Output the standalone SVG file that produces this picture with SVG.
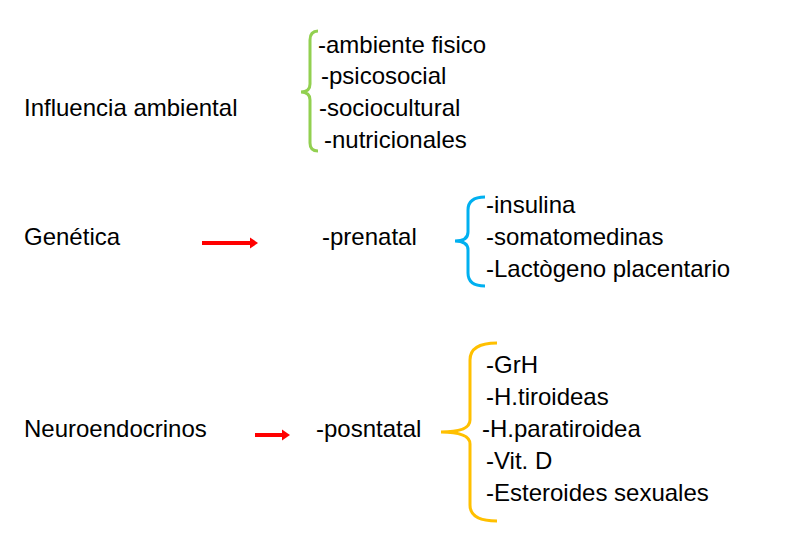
<svg xmlns="http://www.w3.org/2000/svg" width="802" height="560" viewBox="0 0 802 560">
<style>
text{font-family:"Liberation Sans",Arial,sans-serif;font-size:24px;fill:#000}
.br{fill:none;stroke-width:3}
.ar{stroke:#ff0000;stroke-width:4;fill:none}
</style>
<defs><marker id="ah" markerWidth="4" markerHeight="4" refX="1" refY="2" orient="auto" markerUnits="strokeWidth"><path d="M0,0.6 L2,2 L0,3.4 Z" fill="#ff0000"/></marker></defs>
<rect width="802" height="560" fill="#fff"/>
<g id="n1"><text x="24" y="116">Influencia ambiental</text></g>
<g id="n1items">
<text x="318" y="53">-ambiente fisico</text>
<text x="321" y="84">-psicosocial</text>
<text x="319" y="116">-sociocultural</text>
<text x="324" y="148">-nutricionales</text>
</g>
<g id="n2"><text x="24" y="245">Genética</text></g>
<g id="n3"><text x="322" y="245">-prenatal</text></g>
<g id="n3items">
<text x="486" y="213">-insulina</text>
<text x="486" y="245">-somatomedinas</text>
<text x="486" y="277">-Lactògeno placentario</text>
</g>
<g id="n4"><text x="24" y="437">Neuroendocrinos</text></g>
<g id="n5"><text x="316" y="437">-posntatal</text></g>
<g id="n5items">
<text x="486" y="373">-GrH</text>
<text x="486" y="405">-H.tiroideas</text>
<text x="482" y="437">-H.paratiroidea</text>
<text x="486" y="469">-Vit. D</text>
<text x="486" y="501">-Esteroides sexuales</text>
</g>
<g id="connectors">
<path class="br" stroke="#92d050" d="M318,31 Q310,31 310,40 L310,84 Q310,92 301,92 Q310,92 310,100 L310,143 Q310,151 318,151"/>
<path class="br" stroke="#00b0f0" d="M485,197 Q468,197 468,210 L468,232 Q468,241 455,241 Q468,241 468,250 L468,273 Q468,286 485,286"/>
<path class="br" stroke="#ffc000" d="M497,343 Q470,343 470,360 L470,420 Q470,432 441,432 Q470,432 470,444 L470,505 Q470,521 497,521"/>
<line class="ar" x1="202" y1="243" x2="254" y2="243" marker-end="url(#ah)"/>
<line class="ar" x1="255" y1="435" x2="286" y2="435" marker-end="url(#ah)"/>
</g>
</svg>
